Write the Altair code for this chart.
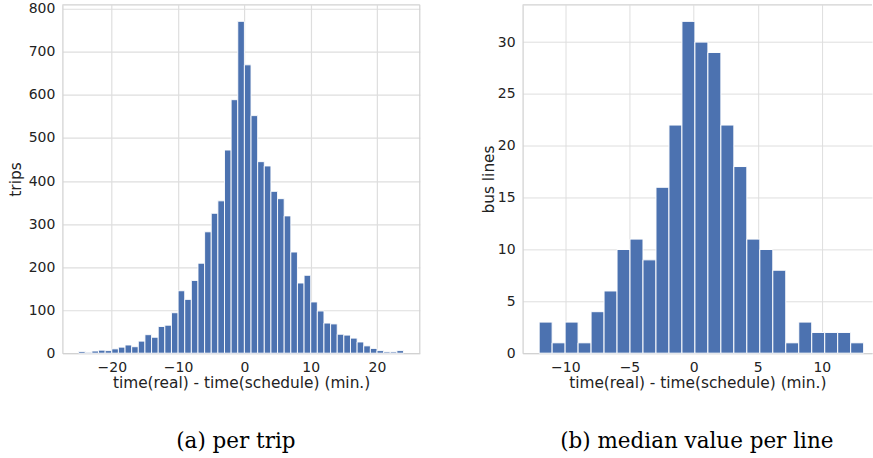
import altair as alt
import pandas as pd
import numpy as np

# ---------------- data ----------------
# (a) per trip: 1-minute bins starting at -25 min
trip_bin_start = -25.0
trip_bin_width = 1.0
trip_counts = [4, 2, 5, 7, 6, 10, 14, 19, 15, 28, 43, 37, 62, 65, 94, 145, 125, 169,
               209, 282, 325, 354, 472, 589, 771, 670, 552, 445, 435, 376, 359, 319,
               235, 163, 181, 119, 98, 70, 68, 44, 42, 35, 26, 17, 11, 6, 3, 3, 6]

# (b) median value per line: 25 bins starting at about -12 min
line_bin_start = -12.04
line_bin_width = 1.012
line_counts = [3, 1, 3, 1, 4, 6, 10, 11, 9, 16, 22, 32, 30, 29, 22, 18, 11, 10, 8,
               1, 3, 2, 2, 2, 1]

left_x_ticks = [-20, -10, 0, 10, 20]
left_y_ticks = [0, 100, 200, 300, 400, 500, 600, 700, 800]
right_x_ticks = [-10, -5, 0, 5, 10]
right_y_ticks = [0, 5, 10, 15, 20, 25, 30]

x_title = "time(real) - time(schedule) (min.)"
left_y_title = "trips"
right_y_title = "bus lines"
captions = ["(a) per trip", "(b) median value per line"]

# ---------------- styling ----------------
BLUE = "#4C72B0"
GRID = "#dedede"
SPINE = "#d2d2d2"
TEXT = "#222222"


def hist_frame(start, width, counts):
    n = len(counts)
    edges = start + width * np.arange(n + 1)
    return pd.DataFrame({"x0": edges[:-1], "x1": edges[1:], "count": counts})


def panel(df, xdom, ydom, xticks, yticks, ytitle, w, h, caption, cap_x,
          stroke_w, grid_w, title_pad, right_spine):
    xaxis = alt.Axis(values=xticks, title=x_title, grid=True, gridColor=GRID,
                     gridWidth=grid_w, domain=True, domainColor=SPINE, domainWidth=1.25,
                     ticks=False, tickSize=0, labelFont="DejaVu Sans", labelFontSize=14,
                     labelColor=TEXT, labelPadding=7.5, labelFlush=False,
                     titleFont="DejaVu Sans", titleFontSize=15.4, titleFontWeight="normal",
                     titleColor=TEXT, titlePadding=0.5)
    yaxis = alt.Axis(values=yticks, title=ytitle, grid=True, gridColor=GRID,
                     gridWidth=grid_w, domain=True, domainColor=SPINE, domainWidth=1.25,
                     ticks=False, tickSize=0, labelFont="DejaVu Sans", labelFontSize=14,
                     labelColor=TEXT, labelPadding=7.5, labelFlush=False,
                     titleFont="DejaVu Sans", titleFontSize=15.4, titleFontWeight="normal",
                     titleColor=TEXT, titlePadding=title_pad)
    bars = alt.Chart(df).mark_bar(color=BLUE, stroke="white", strokeWidth=stroke_w,
                                  opacity=1).encode(
        x=alt.X("x0:Q", scale=alt.Scale(domain=xdom, nice=False, zero=False), axis=xaxis),
        x2="x1:Q",
        y=alt.Y("count:Q", scale=alt.Scale(domain=ydom, nice=False), axis=yaxis),
        y2=alt.datum(0),
    )
    one = pd.DataFrame({"caption": [caption]})
    top = alt.Chart(one).mark_rule(color=SPINE, strokeWidth=1.25).encode(
        x=alt.value(0), x2=alt.value(w), y=alt.value(0))
    layers = [bars, top]
    if right_spine:
        layers.append(alt.Chart(one).mark_rule(color=SPINE, strokeWidth=1.25).encode(
            x=alt.value(w), y=alt.value(0), y2=alt.value(h)))
    cap = alt.Chart(one).mark_text(font="DejaVu Serif", fontSize=21.5, align="center",
                                   baseline="alphabetic", color="black").encode(
        x=alt.value(cap_x), y=alt.value(444), text="caption:N")
    layers.append(cap)
    return alt.layer(*layers).properties(width=w, height=h)


left = panel(hist_frame(trip_bin_start, trip_bin_width, trip_counts),
             [-27.45, 26.45], [0, 809.55], left_x_ticks, left_y_ticks, left_y_title,
             358, 349, captions[0], 173.8, 0.9, 1.2, 5.0, True)
right = panel(hist_frame(line_bin_start, line_bin_width, line_counts),
              [-13.33, 13.91], [0, 33.6], right_x_ticks, right_y_ticks, right_y_title,
              350, 349, captions[1], 174.5, 1.0, 1.0, 1.2, False)

chart = alt.hconcat(left, right, spacing=103, bounds="flush").properties(
    padding={"left": 7.5, "top": 1.4, "right": 0, "bottom": 0},
    background="white",
).configure_view(stroke=None)

chart.save("out.html", embed_options={"renderer": "svg", "actions": False})
